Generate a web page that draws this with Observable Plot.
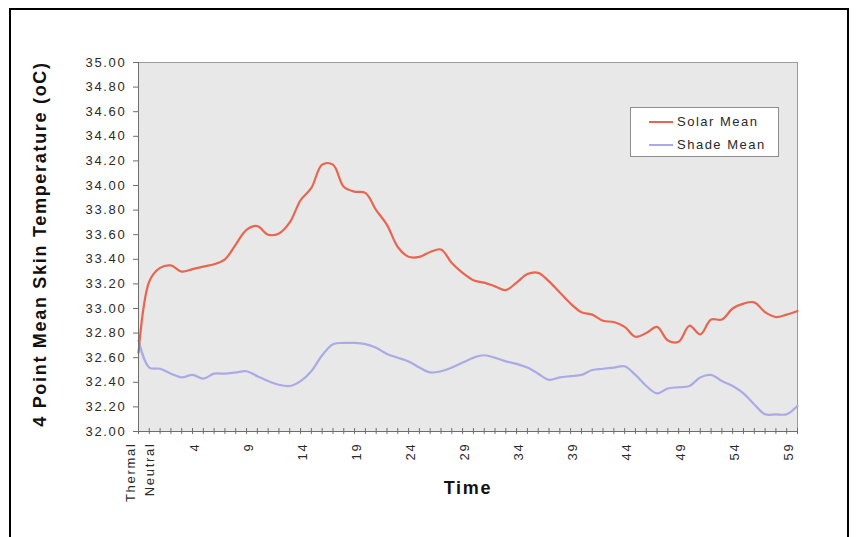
<!DOCTYPE html>
<html>
<head>
<meta charset="utf-8">
<script src="https://cdn.jsdelivr.net/npm/d3@7"></script>
<script src="https://cdn.jsdelivr.net/npm/@observablehq/plot@0.6"></script>
<style>
  html, body { margin: 0; padding: 0; background: #fff; }
  body { width: 858px; height: 537px; overflow: hidden; position: relative; font-family: Arial, "Liberation Sans", sans-serif; }
  #chart { position: absolute; left: 0; top: 0; }
  #frame { position: absolute; left: 9px; top: 8px; width: 840px; height: 620px; border: 2px solid #000; box-sizing: border-box; pointer-events: none; }
  #legend { position: absolute; left: 630px; top: 107px; width: 149px; height: 50px; box-sizing: border-box; border: 1px solid #8c8c8c; background: #fff; font-size: 13px; letter-spacing: 1.5px; color: #2a2a2a; }
  .item { position: absolute; left: 0; height: 16px; line-height: 16px; }
  .swatch { position: absolute; left: 18px; top: 7px; width: 24px; height: 0; border-top: 2px solid; }
  .lbl { position: absolute; left: 46px; top: 0; white-space: nowrap; }
</style>
</head>
<body>
<div id="chart"></div>
<div id="legend"></div>
<div id="frame"></div>
<script>
// ---- data ----
const timeIndex = [0,1,2,3,4,5,6,7,8,9,10,11,12,13,14,15,16,17,18,19,20,21,22,23,24,25,26,27,28,29,30,31,32,33,34,35,36,37,38,39,40,41,42,43,44,45,46,47,48,49,50,51,52,53,54,55,56,57,58,59,60,61];
const solarMean = [32.64,33.22,33.33,33.35,33.30,33.32,33.34,33.36,33.40,33.52,33.64,33.67,33.60,33.61,33.70,33.88,33.98,34.17,34.17,33.99,33.95,33.94,33.80,33.68,33.50,33.42,33.42,33.46,33.48,33.37,33.29,33.23,33.21,33.18,33.15,33.21,33.28,33.29,33.22,33.13,33.04,32.97,32.95,32.90,32.89,32.85,32.77,32.80,32.85,32.74,32.73,32.86,32.79,32.91,32.91,33.00,33.04,33.05,32.97,32.93,32.95,32.98];
const shadeMean = [32.74,32.52,32.51,32.47,32.44,32.46,32.43,32.47,32.47,32.48,32.49,32.45,32.41,32.38,32.37,32.41,32.49,32.62,32.71,32.72,32.72,32.71,32.68,32.63,32.60,32.57,32.52,32.48,32.49,32.52,32.56,32.60,32.62,32.60,32.57,32.55,32.52,32.47,32.42,32.44,32.45,32.46,32.50,32.51,32.52,32.53,32.46,32.37,32.31,32.35,32.36,32.37,32.44,32.46,32.41,32.37,32.31,32.22,32.14,32.14,32.14,32.21];
const seriesNames = ["Solar Mean", "Shade Mean"];
const seriesColors = ["#e8654f", "#aaaae6"];
const xTickIndex = [0,5,10,15,20,25,30,35,40,45,50,55,60];
const xTickLabels = ["Thermal\nNeutral","4","9","14","19","24","29","34","39","44","49","54","59"];
const yTicks = [32.0,32.2,32.4,32.6,32.8,33.0,33.2,33.4,33.6,33.8,34.0,34.2,34.4,34.6,34.8,35.0];
const yTitle = "4 Point Mean Skin Temperature (oC)";
const xTitle = "Time";

// ---- build ----
const solarRows = timeIndex.map((t, i) => ({t, v: solarMean[i]}));
const shadeRows = timeIndex.map((t, i) => ({t, v: shadeMean[i]}));
const labelOf = new Map(xTickIndex.map((t, i) => [t, xTickLabels[i]]));

const chart = Plot.plot({
  width: 858,
  height: 537,
  marginLeft: 138,
  marginRight: 61,
  marginTop: 62,
  marginBottom: 106,
  style: { fontFamily: "Arial, 'Liberation Sans', sans-serif", background: "transparent", letterSpacing: "1.7px", color: "#2a2a2a" },
  x: { domain: [0, 61] },
  y: { domain: [32, 35] },
  marks: [
    Plot.frame({ fill: "#e8e8e8", stroke: "#9a9a9a" }),
    Plot.line(shadeRows, { x: "t", y: "v", stroke: seriesColors[1], strokeWidth: 2.2, curve: "catmull-rom" }),
    Plot.line(solarRows, { x: "t", y: "v", stroke: seriesColors[0], strokeWidth: 2.2, curve: "catmull-rom" }),
    Plot.ruleX([0], { stroke: "#6e6e6e" }),
    Plot.ruleY([32], { stroke: "#6e6e6e" }),
    Plot.axisY(yTicks, { anchor: "left", tickSize: 5, tickPadding: 7, tickFormat: d => d.toFixed(2), fontSize: 13, stroke: "#6e6e6e", fill: "#2a2a2a", label: null }),
    Plot.axisX(timeIndex, { anchor: "bottom", tickSize: 6, dy: -3, tickFormat: () => "", stroke: "#6e6e6e", label: null }),
    Plot.axisX(xTickIndex, { anchor: "bottom", tickSize: 0, tickPadding: 11, tickRotate: -90, tickFormat: d => labelOf.get(d), fontSize: 13, lineHeight: 1.5, fill: "#2a2a2a", label: null }),
    Plot.text([yTitle], { frameAnchor: "left", dx: -98, dy: -3, rotate: -90, textAnchor: "middle", lineAnchor: "middle", text: d => d, fontSize: 18, fontWeight: "bold", fill: "#111" }),
    Plot.text([xTitle], { frameAnchor: "bottom", dy: 57, lineAnchor: "middle", text: d => d, fontSize: 18, fontWeight: "bold", fill: "#111" })
  ]
});
document.getElementById("chart").appendChild(chart);

// legend
const legend = document.getElementById("legend");
seriesNames.forEach((name, i) => {
  const item = document.createElement("div");
  item.className = "item";
  item.style.top = (6 + i * 23) + "px";
  item.style.width = "100%";
  const sw = document.createElement("span");
  sw.className = "swatch";
  sw.style.borderColor = seriesColors[i];
  const lb = document.createElement("span");
  lb.className = "lbl";
  lb.textContent = name;
  item.appendChild(sw);
  item.appendChild(lb);
  legend.appendChild(item);
});
</script>
</body>
</html>
